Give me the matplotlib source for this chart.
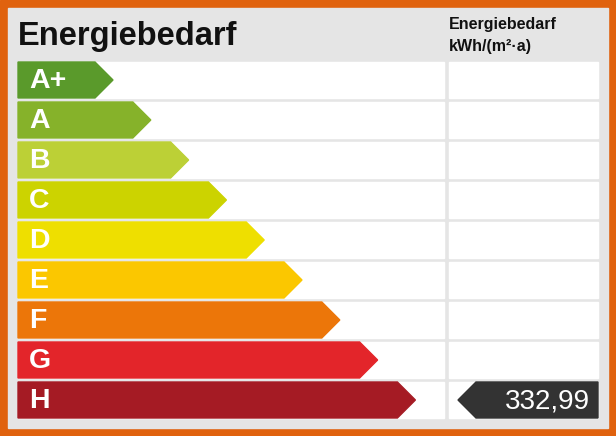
import matplotlib
matplotlib.use("Agg")
import matplotlib.pyplot as plt
from matplotlib.patches import Polygon, Rectangle

classes = ["A+", "A", "B", "C", "D", "E", "F", "G", "H"]
colors = ["#5a9a2b", "#86b22a", "#bcd036", "#ccd300", "#eedf00", "#fbc700", "#ec7609", "#e3252a", "#a51b24"]
value = 332.99
value_class = "H"
title = "Energiebedarf"
header = ["Energiebedarf", "kWh/(m²·a)"]

plt.rcParams['font.family'] = ['Liberation Sans', 'DejaVu Sans']
fig = plt.figure(figsize=(6.16, 4.36), dpi=100)
ax = fig.add_axes([0, 0, 1, 1])
ax.set_xlim(0, 616); ax.set_ylim(436, 0); ax.axis("off")

ax.add_patch(Rectangle((0, 0), 616, 436, color="#e0620e"))
ax.add_patch(Rectangle((8, 8), 600, 420, color="#e5e5e5"))
ax.text(18, 37, title, fontsize=23.5, fontweight="bold", va="center", ha="left", color="#111")
ax.text(449, 25, header[0], fontsize=11.5, fontweight="bold", va="center", color="#111")
ax.text(449, 46, header[1], fontsize=11.5, fontweight="bold", va="center", color="#111")

top0, step, h = 62, 40, 36
for i, (c, col) in enumerate(zip(classes, colors)):
    y0 = top0 + step * i
    ax.add_patch(Rectangle((18, y0), 426, h, color="white"))
    ax.add_patch(Rectangle((449, y0), 149, h, color="white"))
    tip = 113 + 37.8 * i
    body = tip - 18
    ax.add_patch(Polygon([(18, y0), (body, y0), (tip, y0 + h / 2), (body, y0 + h), (18, y0 + h)],
                         closed=True, color=col))
    ax.text(29, y0 + h / 2 + 1, c, fontsize=20.5, fontweight="bold", color="white", va="center", ha="left")
    if c == value_class:
        ax.add_patch(Polygon([(458, y0 + h / 2), (476, y0), (598, y0), (598, y0 + h), (476, y0 + h)],
                             closed=True, color="#333333"))
        ax.text(590, y0 + h / 2 + 1, f"{value:.2f}".replace(".", ","), fontsize=20, color="white",
                va="center", ha="right")

fig.savefig("out.png", dpi=100)
